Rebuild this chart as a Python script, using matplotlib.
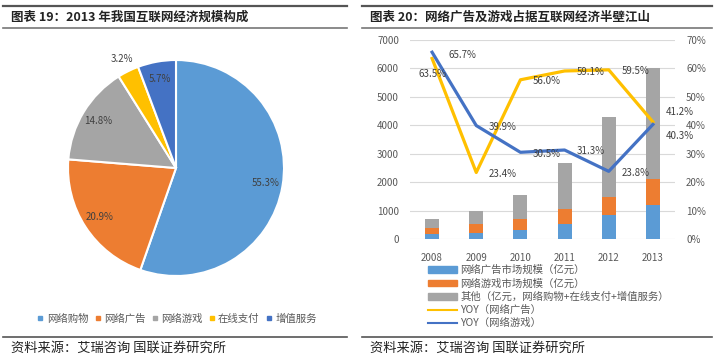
import numpy as np
import matplotlib
matplotlib.use("Agg")
from matplotlib import pyplot as plt
from matplotlib.lines import Line2D
from matplotlib.patches import Patch

plt.rcParams['font.family'] = ['Noto Sans CJK SC', 'DejaVu Sans']

# pie data
pie_labels = ["网络购物", "网络广告", "网络游戏", "在线支付", "增值服务"]
pie_values = [55.3, 20.9, 14.8, 3.2, 5.7]
pie_colors = ["#5B9BD5", "#ED7D31", "#A5A5A5", "#FFC000", "#4472C4"]

# bar + line data
years = ["2008", "2009", "2010", "2011", "2012", "2013"]
ad_size = [170, 210, 330, 520, 830, 1190]
game_size = [220, 310, 380, 520, 660, 910]
other_size = [320, 480, 840, 1620, 2800, 3900]
ad_yoy = [63.5, 23.4, 56.0, 59.1, 59.5, 41.2]
game_yoy = [65.7, 39.9, 30.5, 31.3, 23.8, 40.3]
bar_names = ["网络广告市场规模（亿元）", "网络游戏市场规模（亿元）",
             "其他（亿元，网络购物+在线支付+增值服务）"]
line_names = ["YOY（网络广告）", "YOY（网络游戏）"]

W, H = 720, 364
fig = plt.figure(figsize=(7.2, 3.64), dpi=100)

def fx(px):
    return px / W

def fy(py):
    return 1 - py / H

# header / footer rules and titles
for x0, x1, title in [(3, 347, "图表 19：2013 年我国互联网经济规模构成"),
                      (362, 712, "图表 20：网络广告及游戏占据互联网经济半壁江山")]:
    fig.add_artist(Line2D([fx(x0), fx(x1)], [fy(6), fy(6)], color="#555555", lw=1.6))
    fig.add_artist(Line2D([fx(x0), fx(x1)], [fy(28), fy(28)], color="#777777", lw=1.2))
    fig.add_artist(Line2D([fx(x0), fx(x1)], [fy(337), fy(337)], color="#555555", lw=1.2))
    fig.text(fx(x0 + 8), fy(17), title, fontsize=9, fontweight="bold",
             color="#222222", va="center", ha="left")
    fig.text(fx(x0 + 8), fy(348), "资料来源：艾瑞咨询 国联证券研究所", fontsize=9.5,
             color="#222222", va="center", ha="left")

# ---- pie ----
cx, cy, r = 176, 168, 108
ax1 = fig.add_axes([fx(cx - r), fy(cy + r), 2 * r / W, 2 * r / H])
wedges, _ = ax1.pie(pie_values, colors=pie_colors, startangle=90, counterclock=False,
                    wedgeprops=dict(edgecolor="white", linewidth=1.5))
ax1.set_xlim(-1, 1)
ax1.set_ylim(-1, 1)
ax1.set_aspect("equal")
for w, v in zip(wedges, pie_values):
    ang = np.deg2rad((w.theta1 + w.theta2) / 2)
    d = 1.13 if v < 4 else 0.84
    ax1.text(d * np.cos(ang), d * np.sin(ang), f"{v:.1f}%", ha="center", va="center",
             fontsize=7, color="#404040")

pie_handles = [Line2D([], [], marker="s", color=c, linestyle="none", markersize=3.5)
               for c in pie_colors]
fig.legend(pie_handles, pie_labels, loc="center", bbox_to_anchor=(fx(177), fy(319)),
           ncol=5, frameon=False, fontsize=7.5, handlelength=0.6, handletextpad=0.3,
           columnspacing=0.6, labelcolor="#595959", borderpad=0)

# ---- bars + lines ----
ax2 = fig.add_axes([fx(410), fy(239), 265 / W, 199 / H])
x = np.arange(len(years))
bw = 0.32
ad = np.array(ad_size)
gm = np.array(game_size)
ot = np.array(other_size)
ax2.bar(x, ad, bw, color="#5B9BD5", zorder=2)
ax2.bar(x, gm, bw, bottom=ad, color="#ED7D31", zorder=2)
ax2.bar(x, ot, bw, bottom=ad + gm, color="#A5A5A5", zorder=2)
ax2.set_ylim(0, 7000)
ax2.set_xlim(-0.5, len(years) - 0.5)
ax2.set_yticks(np.arange(0, 7001, 1000))
ax2.set_xticks(x)
ax2.set_xticklabels(years)
ax2.grid(axis="y", color="#D9D9D9", lw=0.8, zorder=0)
for s in ax2.spines.values():
    s.set_visible(False)
ax2.tick_params(length=0, labelsize=7, colors="#595959", pad=8)
ax2.tick_params(axis="x", pad=10)

ax3 = ax2.twinx()
ax3.plot(x, ad_yoy, color="#FFC000", lw=2.3, zorder=3)
ax3.plot(x, game_yoy, color="#4472C4", lw=2.3, zorder=3)
ax3.set_ylim(0, 70)
ax3.set_yticks(np.arange(0, 71, 10))
ax3.set_yticklabels([f"{v}%" for v in range(0, 71, 10)])
for s in ax3.spines.values():
    s.set_visible(False)
ax3.tick_params(length=0, labelsize=7, colors="#595959", pad=8)

# yoy labels: right of the point, special placement for first and last year
lab_kw = dict(fontsize=7, color="#404040", va="center", textcoords="offset points")
last = len(years) - 1
for i, (a, g) in enumerate(zip(ad_yoy, game_yoy)):
    if i == 0:
        ax3.annotate(f"{g:.1f}%", (i, g), xytext=(12, -2), ha="left", **lab_kw)
        ax3.annotate(f"{a:.1f}%", (i, a), xytext=(0, -11), ha="center", **lab_kw)
    elif i == last:
        ax3.annotate(f"{a:.1f}%", (i, a), xytext=(9, 7), ha="left", **lab_kw)
        ax3.annotate(f"{g:.1f}%", (i, g), xytext=(9, -8), ha="left", **lab_kw)
    else:
        ax3.annotate(f"{a:.1f}%", (i, a), xytext=(9, -1), ha="left", **lab_kw)
        ax3.annotate(f"{g:.1f}%", (i, g), xytext=(9, -1), ha="left", **lab_kw)

handles = [Patch(color="#5B9BD5"), Patch(color="#ED7D31"), Patch(color="#A5A5A5"),
           Line2D([], [], color="#FFC000", lw=1.5), Line2D([], [], color="#4472C4", lw=1.5)]
fig.legend(handles, bar_names + line_names, loc="upper left",
           bbox_to_anchor=(fx(428), fy(265)), frameon=False, fontsize=7.5,
           handlelength=2.8, handleheight=0.6, handletextpad=0.3, labelspacing=0.3,
           labelcolor="#595959", borderpad=0, borderaxespad=0)

fig.savefig("out.png", dpi=100)
